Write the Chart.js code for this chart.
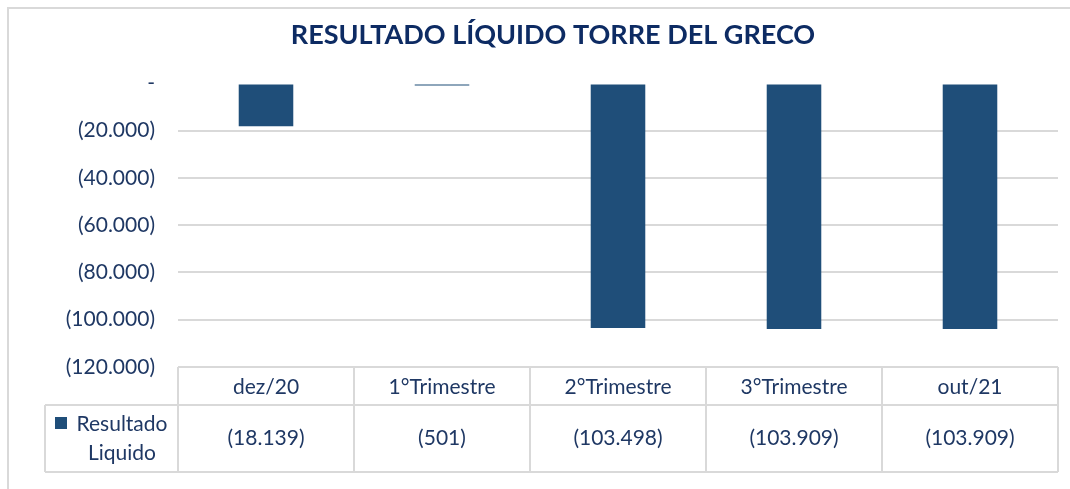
<!DOCTYPE html>
<html lang="pt-BR">
<head>
<meta charset="utf-8">
<title>Resultado Líquido Torre del Greco</title>
<script src="https://cdn.jsdelivr.net/npm/chart.js"></script>
<style>
  html, body { margin: 0; padding: 0; background: #fff; }
  canvas { display: block; }
</style>
</head>
<body>
<canvas id="grafico" width="1070" height="489"></canvas>
<script>
// dados do gráfico
const categorias = ['dez/20', '1°Trimestre', '2°Trimestre', '3°Trimestre', 'out/21'];
const resultadoLiquido = [-18139, -501, -103498, -103909, -103909];
const nomeSerie = ['Resultado', 'Liquido'];
const eixoMin = -120000;
const eixoMax = 0;
const eixoPasso = 20000;

const corBarra = '#1f4e79';
const corTexto = '#1f3864';
const corLinha = '#d9d9d9';
const fonte = 'Lato, "Open Sans", sans-serif';

// formato contábil: 18139 -> (18.139), zero -> "-"
function formatar(v) {
    if (v === 0) return '-';
    const s = Math.abs(v).toString().replace(/\B(?=(\d{3})+(?!\d))/g, '.');
    return v < 0 ? '(' + s + ')' : s;
}

// moldura externa do gráfico
const moldura = {
    id: 'moldura',
    beforeDraw(chart) {
        const ctx = chart.ctx;
        ctx.save();
        ctx.strokeStyle = corLinha;
        ctx.lineWidth = 2;
        ctx.strokeRect(8, 8, chart.width + 10, chart.height + 10);
        ctx.restore();
    }
};

// tabela de dados abaixo do gráfico
const tabelaDados = {
    id: 'tabelaDados',
    afterDraw(chart) {
        const ctx = chart.ctx;
        const x = chart.scales.x;
        const area = chart.chartArea;
        const larg = x.width / categorias.length;
        const topo = area.bottom;
        const meio = topo + 38;
        const base = meio + 67;
        const esq = 45;

        ctx.save();
        ctx.strokeStyle = corLinha;
        ctx.lineWidth = 2;
        ctx.beginPath();
        ctx.moveTo(area.left, topo); ctx.lineTo(area.right, topo);
        ctx.moveTo(esq, meio); ctx.lineTo(area.right, meio);
        ctx.moveTo(esq, base); ctx.lineTo(area.right, base);
        ctx.moveTo(esq, meio); ctx.lineTo(esq, base);
        categorias.forEach((c, i) => {
            const px = x.getPixelForValue(i) - larg / 2;
            ctx.moveTo(px, topo); ctx.lineTo(px, base);
        });
        ctx.moveTo(area.right, topo); ctx.lineTo(area.right, base);
        ctx.stroke();

        ctx.fillStyle = corTexto;
        ctx.font = '21px ' + fonte;
        ctx.textAlign = 'center';
        ctx.textBaseline = 'middle';
        categorias.forEach((c, i) => {
            const cx = x.getPixelForValue(i);
            ctx.fillText(c, cx, topo + 20);
            ctx.fillText(formatar(resultadoLiquido[i]), cx, meio + 33);
        });

        // legenda da série
        ctx.fillStyle = corBarra;
        ctx.fillRect(55, meio + 12, 12, 12);
        ctx.fillStyle = corTexto;
        ctx.fillText(nomeSerie[0], 122, meio + 19);
        ctx.fillText(nomeSerie[1], 122, meio + 48);
        ctx.restore();
    }
};

new Chart(document.getElementById('grafico'), {
    type: 'bar',
    data: {
        labels: categorias,
        datasets: [{
            label: nomeSerie.join(' '),
            data: resultadoLiquido,
            backgroundColor: corBarra,
            categoryPercentage: 1,
            barPercentage: 0.31,
            minBarLength: 2
        }]
    },
    options: {
        responsive: false,
        animation: false,
        layout: { padding: { left: 48, right: 12, top: 0, bottom: 122 } },
        plugins: {
            legend: { display: false },
            tooltip: { enabled: false },
            title: {
                display: true,
                text: 'RESULTADO LÍQUIDO TORRE DEL GRECO',
                color: '#0d2b63',
                font: { family: fonte, size: 27, weight: 'bold' },
                padding: { top: 19, bottom: 32 }
            }
        },
        scales: {
            x: { display: false },
            y: {
                min: eixoMin,
                max: eixoMax,
                afterFit(scale) { scale.width = 130; },
                border: { display: false },
                grid: {
                    drawTicks: false,
                    lineWidth: 2,
                    color: (c) => c.tick && c.tick.value === 0 ? 'rgba(0,0,0,0)' : corLinha
                },
                ticks: {
                    stepSize: eixoPasso,
                    padding: 23,
                    color: corTexto,
                    font: { family: fonte, size: 21 },
                    callback: (v) => formatar(v)
                }
            }
        }
    },
    plugins: [moldura, tabelaDados]
});
</script>
</body>
</html>
